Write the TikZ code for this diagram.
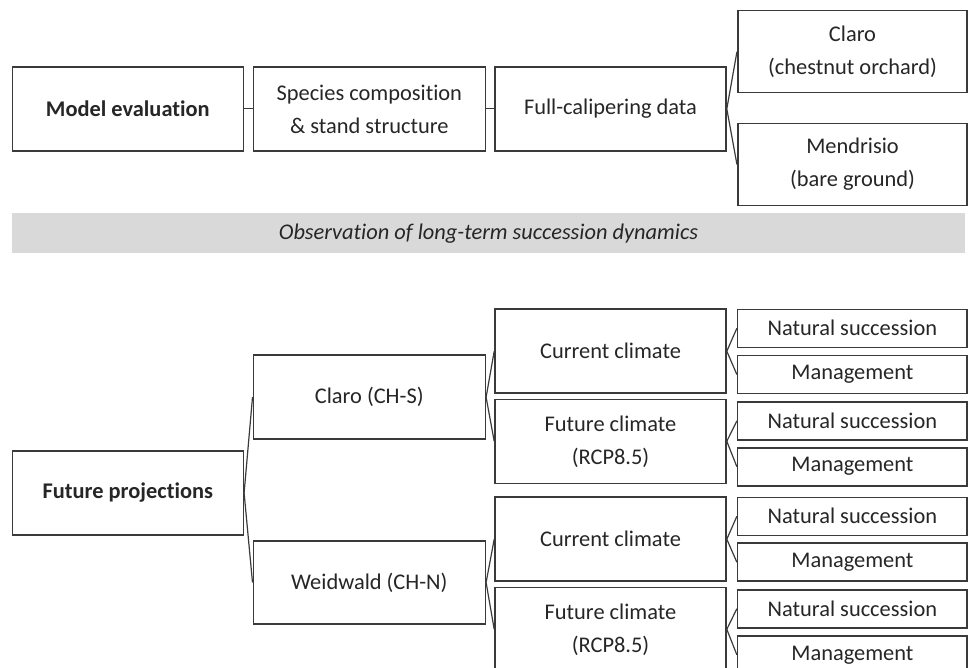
\documentclass[tikz,border=0pt]{standalone}
\usepackage{fontspec}
\setmainfont[Ligatures={NoCommon}]{Carlito}
\definecolor{boxline}{HTML}{3A3A3A}
\definecolor{txt}{HTML}{262626}
\definecolor{band}{HTML}{D9D9D9}
\begin{document}
\begin{tikzpicture}[x=1pt,y=-1pt,
  box/.style={draw=boxline, line width=1.6pt, fill=white, inner sep=0pt, align=center,
    text=txt, font=\fontsize{22.4}{33}\selectfont, minimum width=231pt, minimum height=84pt},
  leaf/.style={box, minimum width=229.5pt, minimum height=38pt},
  side/.style={box, minimum width=229.5pt, minimum height=82pt},
  conn/.style={draw=boxline, line width=1.2pt}]
\useasboundingbox (0,0) rectangle (968,668);
% top part
\node[box] (me) at (127.8,108.9) {\bfseries Model evaluation};
\node[box, minimum width=232pt] (sp) at (369.3,108.9) {Species composition\\\& stand structure};
\node[box] (fc) at (610.5,108.9) {Full-calipering data};
\node[side] (claro) at (852.5,51.7) {Claro\\(chestnut orchard)};
\node[side] (mend) at (852.5,164.5) {Mendrisio\\(bare ground)};
\draw[conn] (me.east) -- (sp.west);
\draw[conn] (sp.east) -- (fc.west);
\draw[conn] (fc.east) -- (claro.west);
\draw[conn] (fc.east) -- (mend.west);
% band
\node[fill=band, minimum width=953.3pt, minimum height=40pt, inner sep=0pt,
  text=txt, font=\fontsize{22.4}{26}\selectfont\itshape] (band) at (488.5,233.3)
  {Observation of long-term succession dynamics};
% bottom part
\node[box] (fp) at (127.8,492.9) {\bfseries Future projections};
\node[box, minimum width=232pt] (cs) at (369.3,397.2) {Claro (CH-S)};
\node[box, minimum width=232pt, minimum height=83pt] (wn) at (369.3,582.5) {Weidwald (CH-N)};
\node[box] (cc1) at (610.5,351.2) {Current climate};
\node[box] (fc1) at (610.5,441.3) {Future climate\\(RCP8.5)};
\node[box] (cc2) at (610.5,539.2) {Current climate};
\node[box] (fc2) at (610.5,629.3) {Future climate\\(RCP8.5)};
\node[leaf] (ns1) at (852.4,328.3) {Natural succession};
\node[leaf] (m1)  at (852.4,374.5) {Management};
\node[leaf] (ns2) at (852.4,420.9) {Natural succession};
\node[leaf] (m2)  at (852.4,466.7) {Management};
\node[leaf] (ns3) at (852.4,516.3) {Natural succession};
\node[leaf] (m3)  at (852.4,562.2) {Management};
\node[leaf] (ns4) at (852.4,608.7) {Natural succession};
\node[leaf] (m4)  at (852.4,654.8) {Management};
\draw[conn] (fp.east) -- (cs.west);
\draw[conn] (fp.east) -- (wn.west);
\draw[conn] (cs.east) -- (cc1.west);
\draw[conn] (cs.east) -- (fc1.west);
\draw[conn] (wn.east) -- (cc2.west);
\draw[conn] (wn.east) -- (fc2.west);
\draw[conn] (cc1.east) -- (ns1.west);
\draw[conn] (cc1.east) -- (m1.west);
\draw[conn] (fc1.east) -- (ns2.west);
\draw[conn] (fc1.east) -- (m2.west);
\draw[conn] (cc2.east) -- (ns3.west);
\draw[conn] (cc2.east) -- (m3.west);
\draw[conn] (fc2.east) -- (ns4.west);
\draw[conn] (fc2.east) -- (m4.west);
\end{tikzpicture}
\end{document}
